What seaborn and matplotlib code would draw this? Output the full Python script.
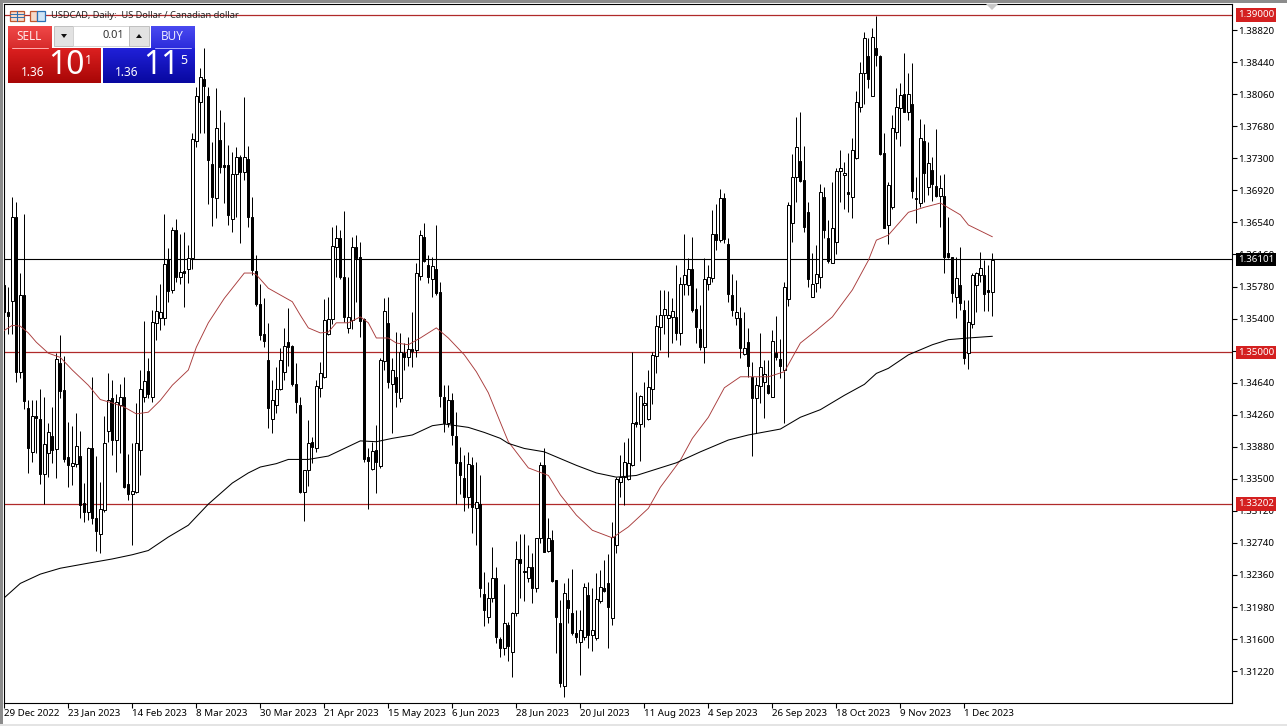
import numpy as np
import pandas as pd
import matplotlib
matplotlib.use('Agg')
import matplotlib.pyplot as plt
from matplotlib.patches import Rectangle, Polygon
import seaborn as sns

# Daily candles, prices in 1/10000
opens = [13580,13548,13561,13661,13477,13568,13434,13382,13425,13421,
         13356,13381,13401,13385,13487,13455,13376,13365,13368,13377,
         13321,13311,13387,13303,13285,13313,13407,13446,13396,13437,
         13447,13344,13332,13334,13384,13447,13478,13447,13535,13541,
         13541,13611,13574,13645,13589,13596,13599,13612,13751,13797,
         13824,13804,13723,13683,13752,13722,13722,13658,13711,13732,
         13714,13729,13661,13596,13557,13522,13491,13421,13437,13456,
         13477,13512,13507,13463,13437,13334,13360,13394,13387,13458,
         13471,13522,13539,13625,13636,13589,13529,13538,13625,13613,
         13539,13376,13362,13384,13365,13490,13535,13462,13471,13446,
         13499,13494,13504,13503,13590,13637,13603,13587,13599,13571,
         13447,13416,13444,13401,13370,13351,13328,13366,13315,13320,
         13213,13186,13209,13232,13160,13150,13177,13145,13191,13255,
         13240,13232,13245,13221,13280,13366,13265,13277,13230,13179,
         13104,13206,13191,13167,13156,13162,13212,13165,13161,13205,
         13220,13226,13185,13272,13346,13352,13350,13366,13417,13415,
         13437,13421,13457,13496,13530,13544,13541,13542,13542,13523,
         13581,13580,13599,13551,13528,13506,13581,13588,13640,13633,
         13683,13628,13568,13541,13541,13498,13512,13471,13446,13460,
         13465,13461,13447,13499,13492,13479,13563,13653,13708,13727,
         13704,13666,13566,13582,13589,13684,13636,13606,13631,13715,
         13710,13690,13684,13730,13791,13831,13851,13804,13861,13851,
         13736,13651,13672,13761,13790,13806,13785,13794,13683,13677,
         13751,13696,13716,13697,13685,13685,13618,13613,13566,13580,
         13550,13499,13533,13580,13592,13592,13574,13571]
highs = [13598,13578,13684,13678,13594,13664,13443,13444,13444,13457,
         13447,13416,13435,13499,13521,13496,13417,13413,13428,13407,
         13345,13388,13471,13377,13346,13424,13475,13467,13451,13463,
         13471,13379,13392,13440,13479,13537,13493,13550,13568,13581,
         13664,13624,13649,13658,13640,13643,13627,13760,13815,13837,
         13861,13815,13749,13813,13787,13773,13746,13737,13743,13734,
         13803,13745,13684,13615,13581,13564,13535,13467,13483,13505,
         13529,13552,13509,13487,13447,13360,13420,13400,13467,13489,
         13563,13565,13648,13651,13645,13667,13589,13637,13639,13631,
         13541,13387,13394,13414,13493,13564,13565,13493,13524,13523,
         13511,13518,13548,13606,13645,13653,13615,13613,13651,13583,
         13461,13461,13452,13429,13388,13378,13382,13376,13370,13354,
         13239,13228,13269,13245,13162,13225,13180,13192,13276,13284,
         13284,13272,13262,13280,13370,13387,13303,13289,13230,13206,
         13226,13232,13243,13194,13194,13226,13228,13220,13238,13242,
         13254,13261,13299,13352,13378,13394,13398,13500,13453,13449,
         13465,13479,13500,13544,13574,13574,13573,13564,13603,13589,
         13640,13612,13637,13576,13556,13612,13603,13669,13676,13694,
         13689,13635,13593,13586,13554,13548,13529,13488,13471,13523,
         13491,13491,13526,13543,13516,13583,13678,13735,13779,13785,
         13745,13678,13618,13627,13700,13696,13657,13702,13718,13740,
         13726,13736,13754,13810,13844,13880,13873,13885,13899,13853,
         13760,13702,13781,13813,13819,13855,13831,13843,13708,13777,
         13771,13749,13731,13765,13710,13711,13661,13613,13613,13625,
         13562,13562,13594,13595,13619,13609,13604,13618]
lows = [13532,13522,13522,13465,13469,13433,13357,13370,13381,13344,
        13320,13352,13369,13351,13446,13370,13340,13343,13364,13303,
        13299,13301,13297,13264,13262,13311,13394,13378,13358,13381,
        13339,13325,13272,13333,13354,13441,13446,13441,13515,13526,
        13532,13560,13570,13583,13581,13554,13582,13599,13743,13760,
        13760,13676,13650,13659,13713,13677,13651,13643,13661,13630,
        13704,13649,13592,13555,13515,13506,13410,13404,13428,13455,
        13467,13484,13460,13428,13333,13300,13341,13369,13382,13447,
        13469,13521,13533,13589,13587,13536,13523,13528,13560,13518,
        13370,13314,13360,13333,13363,13479,13458,13404,13435,13441,
        13479,13484,13483,13494,13586,13607,13582,13566,13568,13435,
        13405,13411,13390,13320,13332,13312,13315,13286,13271,13210,
        13176,13179,13204,13155,13139,13141,13134,13115,13187,13209,
        13205,13228,13203,13216,13274,13263,13263,13228,13143,13103,
        13091,13179,13165,13155,13117,13159,13149,13146,13159,13203,
        13216,13150,13177,13262,13328,13319,13349,13365,13411,13371,
        13411,13420,13439,13475,13503,13522,13494,13511,13515,13509,
        13568,13568,13548,13511,13503,13487,13574,13583,13621,13631,
        13630,13560,13543,13532,13493,13497,13471,13377,13404,13440,
        13422,13450,13447,13491,13469,13416,13555,13631,13678,13702,
        13643,13577,13565,13571,13576,13636,13606,13606,13617,13678,
        13670,13666,13659,13729,13785,13794,13813,13804,13840,13734,
        13647,13628,13670,13753,13745,13785,13775,13683,13653,13672,
        13678,13687,13679,13684,13649,13594,13612,13560,13541,13550,
        13486,13480,13529,13548,13583,13549,13549,13543]
closes = [13548,13543,13661,13477,13568,13442,13387,13424,13422,13356,
          13391,13405,13384,13492,13454,13373,13366,13369,13389,13319,
          13311,13387,13303,13288,13314,13392,13444,13396,13441,13447,
          13340,13332,13336,13392,13456,13466,13451,13536,13549,13548,
          13605,13573,13645,13589,13595,13594,13612,13753,13804,13826,
          13816,13728,13684,13766,13720,13720,13663,13711,13732,13714,
          13732,13661,13598,13557,13521,13513,13434,13443,13456,13491,
          13507,13506,13462,13441,13334,13360,13392,13388,13460,13475,
          13538,13539,13626,13636,13589,13542,13542,13625,13612,13537,
          13373,13371,13383,13370,13491,13549,13465,13479,13453,13500,
          13494,13504,13502,13594,13639,13608,13589,13602,13570,13448,
          13416,13444,13402,13369,13354,13329,13368,13317,13322,13220,
          13194,13209,13232,13162,13150,13179,13152,13191,13255,13250,
          13241,13245,13221,13280,13366,13263,13280,13229,13186,13108,
          13215,13197,13167,13162,13171,13222,13165,13171,13207,13222,
          13217,13198,13281,13350,13352,13370,13369,13416,13415,13448,
          13440,13459,13497,13531,13544,13551,13544,13549,13523,13581,
          13592,13599,13550,13530,13506,13587,13589,13640,13633,13683,
          13634,13569,13550,13548,13505,13505,13484,13446,13461,13483,
          13474,13452,13513,13494,13484,13577,13675,13708,13743,13703,
          13649,13587,13581,13593,13690,13645,13608,13647,13715,13718,
          13713,13688,13740,13797,13831,13873,13824,13874,13853,13735,
          13647,13698,13766,13791,13805,13785,13806,13691,13682,13754,
          13713,13725,13700,13685,13695,13613,13613,13570,13588,13558,
          13493,13536,13592,13594,13600,13569,13571,13610]

# Moving averages, read at some bars
red_ma_bars = [0,2,4,6,8,11,14,17,21,24,27,30,33,36,39,42,46,48,51,55,58,60,62,63,66,69,72,74,76,79,
               81,83,86,89,91,93,96,98,101,104,108,111,115,118,121,124,126,131,136,139,143,147,152,156,
               161,164,169,172,176,180,184,191,195,199,203,207,212,216,218,221,226,230,234,239,241,247]
red_ma_vals = [13526,13532,13531,13523,13512,13499,13494,13479,13461,13444,13440,13435,13427,13429,13443,
               13461,13479,13506,13535,13564,13582,13594,13594,13592,13576,13568,13560,13544,13529,13523,
               13524,13535,13535,13542,13535,13517,13517,13511,13509,13517,13529,13517,13497,13477,13452,
               13417,13394,13363,13354,13331,13307,13289,13280,13293,13315,13340,13372,13398,13423,13458,
               13471,13471,13477,13511,13526,13542,13574,13609,13633,13639,13666,13672,13677,13663,13651,13637]
black_ma_bars = [0,4,9,14,21,27,32,36,41,46,51,57,61,64,68,71,76,81,85,89,93,97,102,107,110,116,120,124,
                 126,130,135,138,143,148,153,158,164,168,174,181,186,194,199,204,210,215,218,221,226,232,236,241,247]
black_ma_vals = [13209,13226,13237,13244,13250,13255,13260,13265,13281,13295,13320,13345,13357,13364,13368,
                 13373,13373,13377,13386,13395,13394,13398,13402,13413,13415,13411,13405,13398,13392,13386,
                 13382,13376,13366,13357,13352,13354,13363,13369,13382,13396,13402,13409,13423,13432,13449,
                 13462,13475,13481,13497,13509,13515,13517,13519]

date_labels = ['29 Dec 2022','23 Jan 2023','14 Feb 2023','8 Mar 2023','30 Mar 2023','21 Apr 2023',
               '15 May 2023','6 Jun 2023','28 Jun 2023','20 Jul 2023','11 Aug 2023','4 Sep 2023',
               '26 Sep 2023','18 Oct 2023','9 Nov 2023','1 Dec 2023']
price_ticks = [1.38820,1.38440,1.38060,1.37680,1.37300,1.36920,1.36540,1.36160,1.35780,1.35400,1.35020,
               1.34640,1.34260,1.33880,1.33500,1.33120,1.32740,1.32360,1.31980,1.31600,1.31220]
red_levels = [1.39000,1.35000,1.33202]
last_price = 1.36101

sns.set_theme(style='white')
plt.rcParams['font.family'] = ['Noto Sans', 'DejaVu Sans']

candles = pd.DataFrame({'open': opens, 'high': highs, 'low': lows, 'close': closes}) / 10000
candles['bar'] = candles.index
up = candles[candles['close'] >= candles['open']]
down = candles[candles['close'] < candles['open']]

W, H = 1287, 726
fig = plt.figure(figsize=(W / 100, H / 100), dpi=100, facecolor='white')
ax = fig.add_axes([4 / W, (H - 703) / H, 1228 / W, 699 / H])

# red levels and last price behind the candles
for lvl in red_levels:
    ax.axhline(lvl, color='#b02a2a', lw=0.9, zorder=1)
ax.axhline(last_price, color='black', lw=0.8, zorder=1)

ax.vlines(candles['bar'], candles['low'], candles['high'], color='black', lw=0.72, zorder=2)
ax.bar(up['bar'], up['close'] - up['open'], bottom=up['open'], width=0.6,
       facecolor='white', edgecolor='black', linewidth=0.72, zorder=3)
ax.bar(down['bar'], down['open'] - down['close'], bottom=down['close'], width=0.5,
       facecolor='black', edgecolor='black', linewidth=0.72, zorder=3)

sns.lineplot(x=red_ma_bars, y=np.array(red_ma_vals) / 10000, ax=ax, color='#a83a3a', lw=0.65, zorder=4)
sns.lineplot(x=black_ma_bars, y=np.array(black_ma_vals) / 10000, ax=ax, color='black', lw=0.75, zorder=4)

ax.set_xlim(-0.075, 306.9)
ax.set_ylim(1.30842, 1.39130)
for s in ax.spines.values():
    s.set_color('black')
    s.set_linewidth(0.8)

ax.yaxis.tick_right()
ax.set_yticks(price_ticks)
ax.set_yticklabels(['%.5f' % p for p in price_ticks], fontsize=7.0, color='black')
ax.set_xticks([16 * k for k in range(len(date_labels))])
ax.set_xticklabels(date_labels, fontsize=7.0, color='black', ha='left')
ax.tick_params(axis='y', direction='out', length=3.5, width=0.8, color='black', pad=1,
               right=True, left=False)
ax.tick_params(axis='x', direction='out', length=3.5, width=0.8, color='black', pad=0.5,
               bottom=True, top=False)

# boxed price labels on the right
for lvl in red_levels + [last_price]:
    face = 'black' if lvl == last_price else '#d42020'
    ax.annotate('%.5f' % lvl, xy=(1, lvl), xycoords=('axes fraction', 'data'),
                xytext=(6, 0), textcoords='offset pixels', ha='left', va='center',
                fontsize=7.0, color='white', zorder=10, annotation_clip=False,
                bbox=dict(boxstyle='square,pad=0.22', fc=face, ec='none'))

# terminal chrome drawn in pixel space
ui = fig.add_axes([0, 0, 1, 1], facecolor='none')
ui.set_xlim(0, W)
ui.set_ylim(H, 0)
ui.axis('off')


def grad(x0, y0, x1, y1, c_top, c_bot):
    top = np.array(matplotlib.colors.to_rgb(c_top))
    bot = np.array(matplotlib.colors.to_rgb(c_bot))
    col = np.linspace(top, bot, 32).reshape(32, 1, 3)
    ui.imshow(col, extent=(x0, x1, y1, y0), aspect='auto', zorder=5)


ui.add_patch(Rectangle((0, 0), W, 2.5, fc='#8c8c8c', ec='none'))
ui.add_patch(Rectangle((0, 0), 2.5, H, fc='#8c8c8c', ec='none'))
ui.add_patch(Rectangle((0, H - 2.5), W, 2.5, fc='#e4e4e4', ec='none'))
ui.add_patch(Polygon([(986, 4), (998, 4), (992, 10)], fc='#c8c8c8', ec='none'))

ui.text(51, 15.5, 'USDCAD, Daily:  US Dollar / Canadian dollar', fontsize=6.7, color='#222222',
        va='center', ha='left', zorder=7)
# little toolbar icons next to the title
ui.add_patch(Rectangle((9.5, 10.5), 14, 10, fc='#f6d9c8', ec='#c0562f', lw=0.9, zorder=7))
ui.plot([16.5, 16.5], [10.5, 20.5], color='#3070b0', lw=0.8, zorder=8)
ui.plot([9.5, 23.5], [14, 14], color='#3070b0', lw=0.7, zorder=8)
ui.plot([9.5, 23.5], [17, 17], color='#3070b0', lw=0.7, zorder=8)
ui.add_patch(Rectangle((30, 10.5), 7, 10, fc='#f6d9c8', ec='#c0562f', lw=0.9, zorder=7))
ui.add_patch(Rectangle((37, 11), 7.5, 9.5, fc='#cfe4f5', ec='#2a70b5', lw=0.9, zorder=7))

grad(8, 26, 52, 48, '#f04848', '#d82c2c')
grad(8, 48, 101, 83, '#dc2020', '#a80606')
grad(151, 26, 195, 48, '#4a4af0', '#2c2cdc')
grad(103, 48, 195, 83, '#2020d8', '#0808a0')
ui.plot([12, 48], [47.5, 47.5], color='#ffb0b0', lw=0.7, zorder=6)
ui.plot([155, 191], [47.5, 47.5], color='#b0b0ff', lw=0.7, zorder=6)

ui.add_patch(Rectangle((54, 26), 19, 20, fc='#e2e2e2', ec='#b8b8b8', lw=0.6, zorder=6))
ui.add_patch(Rectangle((73, 26), 56, 20, fc='white', ec='#d0d0d0', lw=0.6, zorder=6))
ui.add_patch(Rectangle((129, 26), 20, 20, fc='#e2e2e2', ec='#b8b8b8', lw=0.6, zorder=6))
ui.add_patch(Polygon([(61, 34), (67, 34), (64, 38)], fc='#111111', ec='none', zorder=7))
ui.add_patch(Polygon([(136, 38), (142, 38), (139, 34)], fc='#111111', ec='none', zorder=7))
ui.text(124, 36, '0.01', fontsize=8, color='#333333', ha='right', va='center', zorder=7)
ui.text(29, 37, 'SELL', fontsize=8.5, color='#ffe8e8', ha='center', va='center', zorder=7)
ui.text(172, 37, 'BUY', fontsize=8.5, color='#e8e8ff', ha='center', va='center', zorder=7)

ui.text(33, 73, '1.36', fontsize=8.5, fontweight='bold', color='white', ha='center', va='center', zorder=7)
ui.text(66, 66, '10', fontsize=23, color='white', ha='center', va='center', zorder=7, fontweight='light')
ui.text(88, 60, '1', fontsize=9, fontweight='bold', color='white', ha='center', va='center', zorder=7)
ui.text(127, 73, '1.36', fontsize=8.5, fontweight='bold', color='white', ha='center', va='center', zorder=7)
ui.text(161, 66, '11', fontsize=23, color='white', ha='center', va='center', zorder=7, fontweight='light')
ui.text(184, 60, '5', fontsize=9, fontweight='bold', color='white', ha='center', va='center', zorder=7)

fig.savefig('out.png', dpi=100)
